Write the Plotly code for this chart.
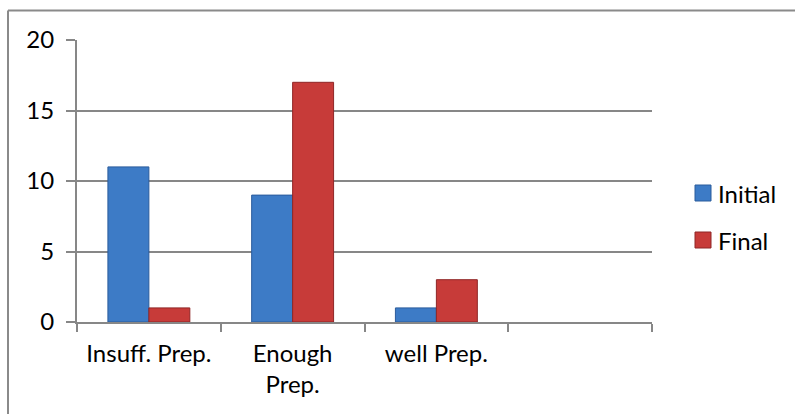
import plotly.graph_objects as go

categories = ["Insuff. Prep.", "Enough<br>Prep.", "well Prep.", " "]
initial = [11, 9, 1, None]
final = [1, 17, 3, None]
y_ticks = [0, 5, 10, 15, 20]
series_names = ["Initial", "Final"]
series_colors = ["#3D7BC6", "#C73B39"]
series_edges = ["#2B5C9C", "#8F2626"]

FONT = "Lato"
FS = 24
W, H = 795, 414
L, R, T, B = 77, 143, 40, 92
pw, ph = W - L - R, H - T - B

fig = go.Figure()
for name, vals, c, e in zip(series_names, [initial, final], series_colors, series_edges):
    fig.add_trace(go.Bar(name=name, x=categories, y=vals,
                         marker=dict(color=c, line=dict(color=e, width=1))))

fig.update_layout(
    width=W, height=H,
    margin=dict(l=L, r=R, t=T, b=B, autoexpand=False),
    paper_bgcolor="white", plot_bgcolor="white",
    barmode="group", bargap=0.43, bargroupgap=0,
    font=dict(family=FONT, size=FS, color="black"),
    showlegend=False,
    xaxis=dict(type="category", categoryorder="array", categoryarray=categories,
               range=[-0.5, 3.5], showline=True, linecolor="#878787", linewidth=2,
               ticks="outside", tickson="boundaries", ticklen=8, tickcolor="#878787",
               tickwidth=2, showgrid=False, tickfont=dict(size=FS), ticklabelstandoff=9),
    yaxis=dict(range=[0, 20], tickvals=y_ticks, showline=True, linecolor="#878787",
               linewidth=2, ticks="outside", ticklen=9, tickcolor="#878787", tickwidth=2,
               showgrid=True, gridcolor="#878787", gridwidth=2, zeroline=False,
               tickfont=dict(size=FS), ticklabelstandoff=7),
)

# manual legend (square swatch + label)
leg_x = 695
leg_rows = [193, 240]
for name, c, e, yc in zip(series_names, series_colors, series_edges, leg_rows):
    fig.add_shape(type="rect", xref="paper", yref="paper",
                  x0=(leg_x - L) / pw, x1=(leg_x + 16 - L) / pw,
                  y0=(H - B - (yc + 8)) / ph, y1=(H - B - (yc - 8)) / ph,
                  fillcolor=c, line=dict(color=e, width=1))
    fig.add_annotation(xref="paper", yref="paper", x=(leg_x + 21 - L) / pw,
                       y=(H - B - yc) / ph, text=name, showarrow=False,
                       xanchor="left", yanchor="middle", font=dict(size=FS))

# outer chart border (top and left edges visible)
fig.add_shape(type="line", xref="paper", yref="paper",
              x0=(8 - L) / pw, x1=(W + 5 - L) / pw,
              y0=1 + (T - 10.5) / ph, y1=1 + (T - 10.5) / ph,
              line=dict(color="#8a8a8a", width=2))
fig.add_shape(type="line", xref="paper", yref="paper",
              x0=(8 - L) / pw, x1=(8 - L) / pw,
              y0=1 + (T - 10.5) / ph, y1=-(B + 5) / ph,
              line=dict(color="#8a8a8a", width=2))

fig.write_html("out.html")
